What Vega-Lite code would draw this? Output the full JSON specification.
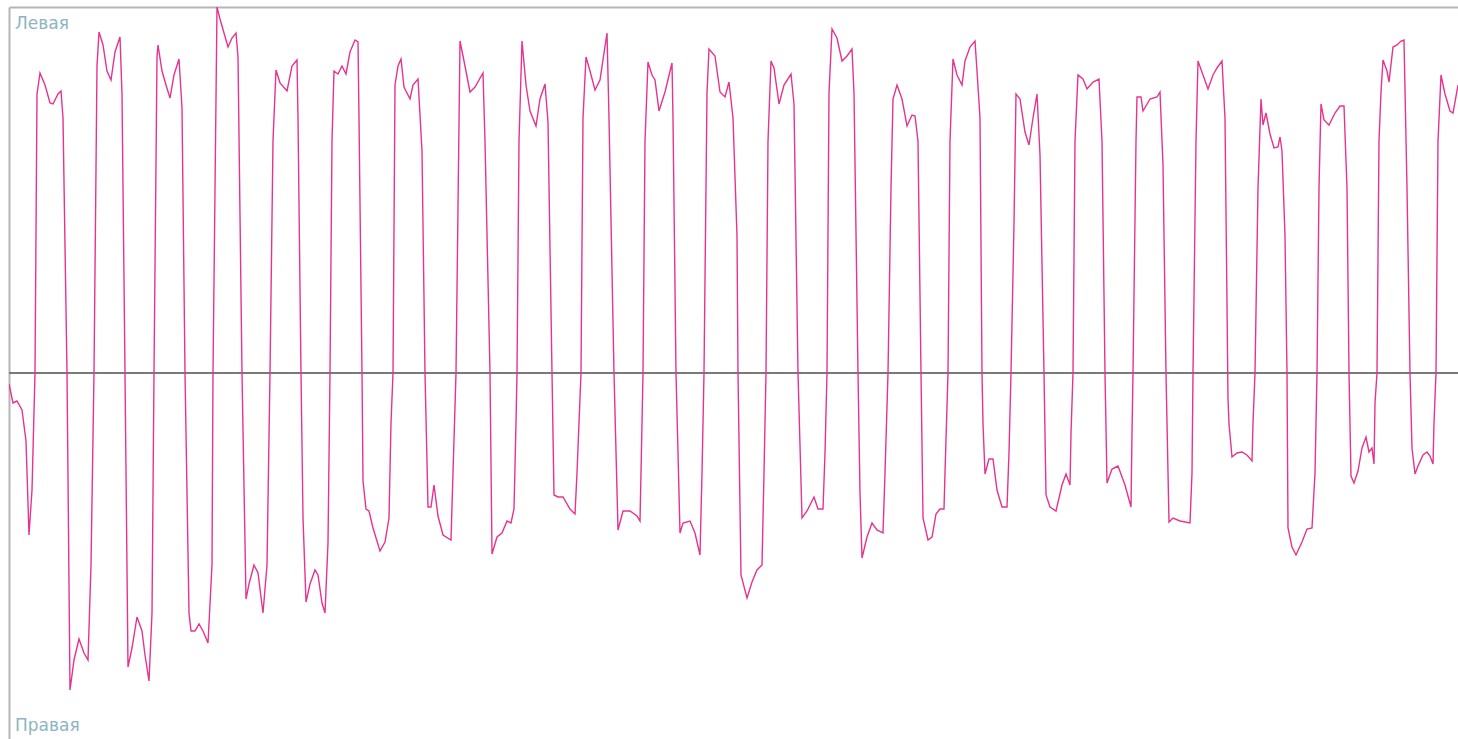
{
  "$schema": "https://vega.github.io/schema/vega-lite/v6.json",
  "width": 1449,
  "height": 732,
  "autosize": {"type": "none"},
  "padding": {"left": 9, "top": 7, "right": 0, "bottom": 0},
  "background": "white",
  "config": {"view": {"stroke": null}},
  "datasets": {
    "wave": [
      {"t":9,"v":-11},{"t":13,"v":-30},{"t":17,"v":-28},{"t":22,"v":-37},{"t":26,"v":-68},{"t":29,"v":-162},{"t":32,"v":-117},{"t":35,"v":0},{"t":37,"v":279},{"t":40,"v":300},{"t":45,"v":288},{"t":50,"v":270},{"t":53,"v":269},{"t":58,"v":279},{"t":61,"v":282},{"t":63,"v":255},{"t":67,"v":0},
      {"t":70,"v":-317},{"t":74,"v":-287},{"t":79,"v":-266},{"t":84,"v":-280},{"t":88,"v":-287},{"t":91,"v":-192},{"t":94,"v":0},{"t":97,"v":307},{"t":99,"v":341},{"t":103,"v":328},{"t":107,"v":302},{"t":111,"v":293},{"t":115,"v":321},{"t":120,"v":336},{"t":122,"v":279},{"t":125,"v":0},
      {"t":128,"v":-294},{"t":132,"v":-275},{"t":137,"v":-244},{"t":142,"v":-258},{"t":145,"v":-282},{"t":149,"v":-308},{"t":152,"v":-240},{"t":154,"v":0},{"t":157,"v":316},{"t":158,"v":328},{"t":162,"v":302},{"t":166,"v":288},{"t":170,"v":275},{"t":174,"v":298},{"t":179,"v":314},{"t":182,"v":265},{"t":185,"v":0},
      {"t":189,"v":-240},{"t":191,"v":-258},{"t":195,"v":-258},{"t":199,"v":-251},{"t":203,"v":-258},{"t":208,"v":-270},{"t":212,"v":-192},{"t":213,"v":0},{"t":217,"v":366},{"t":220,"v":354},{"t":224,"v":340},{"t":228,"v":326},{"t":232,"v":335},{"t":236,"v":340},{"t":238,"v":316},{"t":242,"v":0},
      {"t":246,"v":-226},{"t":249,"v":-211},{"t":254,"v":-192},{"t":258,"v":-200},{"t":263,"v":-240},{"t":267,"v":-192},{"t":270,"v":0},{"t":273,"v":232},{"t":276,"v":303},{"t":280,"v":290},{"t":287,"v":282},{"t":292,"v":307},{"t":297,"v":313},{"t":298,"v":255},{"t":301,"v":0},
      {"t":303,"v":-145},{"t":306,"v":-229},{"t":310,"v":-211},{"t":315,"v":-197},{"t":318,"v":-202},{"t":322,"v":-230},{"t":325,"v":-240},{"t":328,"v":-170},{"t":330,"v":0},{"t":332,"v":232},{"t":334,"v":302},{"t":338,"v":299},{"t":342,"v":307},{"t":346,"v":299},{"t":350,"v":321},{"t":355,"v":333},{"t":358,"v":331},{"t":359,"v":255},{"t":362,"v":0},
      {"t":363,"v":-108},{"t":366,"v":-136},{"t":369,"v":-138},{"t":373,"v":-155},{"t":380,"v":-178},{"t":385,"v":-169},{"t":389,"v":-145},{"t":391,"v":-50},{"t":393,"v":0},{"t":395,"v":288},{"t":398,"v":307},{"t":401,"v":314},{"t":404,"v":286},{"t":410,"v":274},{"t":413,"v":288},{"t":418,"v":294},{"t":422,"v":222},{"t":425,"v":0},
      {"t":428,"v":-134},{"t":431,"v":-134},{"t":434,"v":-112},{"t":438,"v":-143},{"t":443,"v":-162},{"t":451,"v":-167},{"t":453,"v":-100},{"t":456,"v":0},{"t":460,"v":332},{"t":465,"v":307},{"t":470,"v":281},{"t":475,"v":286},{"t":483,"v":300},{"t":485,"v":232},{"t":490,"v":0},
      {"t":492,"v":-181},{"t":497,"v":-164},{"t":502,"v":-160},{"t":507,"v":-148},{"t":511,"v":-150},{"t":514,"v":-136},{"t":516,"v":-50},{"t":517,"v":0},{"t":519,"v":232},{"t":522,"v":332},{"t":526,"v":288},{"t":530,"v":262},{"t":536,"v":247},{"t":540,"v":274},{"t":545,"v":289},{"t":548,"v":251},{"t":552,"v":0},
      {"t":554,"v":-122},{"t":558,"v":-124},{"t":563,"v":-124},{"t":570,"v":-136},{"t":575,"v":-141},{"t":577,"v":-100},{"t":581,"v":0},{"t":583,"v":255},{"t":586,"v":316},{"t":590,"v":302},{"t":595,"v":283},{"t":600,"v":293},{"t":607,"v":340},{"t":609,"v":255},{"t":614,"v":0},
      {"t":618,"v":-157},{"t":623,"v":-138},{"t":630,"v":-138},{"t":637,"v":-143},{"t":640,"v":-148},{"t":641,"v":-100},{"t":643,"v":0},{"t":645,"v":232},{"t":648,"v":311},{"t":652,"v":298},{"t":655,"v":293},{"t":659,"v":262},{"t":665,"v":281},{"t":672,"v":310},{"t":673,"v":255},{"t":676,"v":0},
      {"t":680,"v":-160},{"t":683,"v":-150},{"t":690,"v":-148},{"t":695,"v":-160},{"t":700,"v":-182},{"t":702,"v":-100},{"t":704,"v":0},{"t":707,"v":280},{"t":709,"v":324},{"t":715,"v":317},{"t":720,"v":281},{"t":725,"v":276},{"t":729,"v":291},{"t":733,"v":255},{"t":737,"v":137},{"t":738,"v":0},
      {"t":741,"v":-202},{"t":747,"v":-225},{"t":752,"v":-209},{"t":757,"v":-197},{"t":762,"v":-192},{"t":764,"v":-100},{"t":766,"v":0},{"t":768,"v":232},{"t":771,"v":312},{"t":774,"v":305},{"t":779,"v":269},{"t":784,"v":288},{"t":791,"v":299},{"t":794,"v":269},{"t":798,"v":0},
      {"t":802,"v":-145},{"t":807,"v":-138},{"t":814,"v":-124},{"t":818,"v":-136},{"t":823,"v":-136},{"t":825,"v":-80},{"t":827,"v":0},{"t":829,"v":280},{"t":832,"v":344},{"t":837,"v":335},{"t":842,"v":312},{"t":847,"v":317},{"t":852,"v":324},{"t":854,"v":280},{"t":858,"v":0},
      {"t":860,"v":-120},{"t":862,"v":-185},{"t":867,"v":-164},{"t":872,"v":-150},{"t":877,"v":-157},{"t":883,"v":-160},{"t":885,"v":-100},{"t":888,"v":0},{"t":891,"v":185},{"t":893,"v":274},{"t":897,"v":288},{"t":902,"v":274},{"t":907,"v":247},{"t":912,"v":258},{"t":915,"v":257},{"t":918,"v":232},{"t":921,"v":0},
      {"t":923,"v":-145},{"t":928,"v":-167},{"t":932,"v":-164},{"t":936,"v":-141},{"t":940,"v":-136},{"t":944,"v":-136},{"t":945,"v":-100},{"t":948,"v":0},{"t":950,"v":232},{"t":953,"v":314},{"t":957,"v":298},{"t":962,"v":288},{"t":965,"v":312},{"t":970,"v":326},{"t":975,"v":332},{"t":977,"v":302},{"t":980,"v":255},{"t":982,"v":0},
      {"t":983,"v":-51},{"t":985,"v":-101},{"t":989,"v":-86},{"t":993,"v":-86},{"t":997,"v":-117},{"t":1002,"v":-134},{"t":1007,"v":-134},{"t":1009,"v":-80},{"t":1011,"v":0},{"t":1014,"v":150},{"t":1016,"v":279},{"t":1020,"v":274},{"t":1025,"v":241},{"t":1029,"v":228},{"t":1033,"v":255},{"t":1037,"v":279},{"t":1040,"v":218},{"t":1044,"v":0},
      {"t":1046,"v":-122},{"t":1050,"v":-134},{"t":1056,"v":-138},{"t":1062,"v":-112},{"t":1066,"v":-101},{"t":1070,"v":-112},{"t":1071,"v":-60},{"t":1073,"v":0},{"t":1075,"v":232},{"t":1078,"v":298},{"t":1083,"v":294},{"t":1087,"v":284},{"t":1093,"v":291},{"t":1099,"v":294},{"t":1102,"v":232},{"t":1105,"v":0},
      {"t":1107,"v":-110},{"t":1112,"v":-96},{"t":1118,"v":-93},{"t":1125,"v":-112},{"t":1131,"v":-134},{"t":1132,"v":-60},{"t":1133,"v":0},{"t":1136,"v":232},{"t":1137,"v":276},{"t":1141,"v":276},{"t":1143,"v":262},{"t":1150,"v":274},{"t":1157,"v":276},{"t":1160,"v":281},{"t":1163,"v":208},{"t":1166,"v":0},
      {"t":1169,"v":-149},{"t":1173,"v":-145},{"t":1180,"v":-148},{"t":1190,"v":-150},{"t":1192,"v":-100},{"t":1193,"v":0},{"t":1196,"v":232},{"t":1198,"v":312},{"t":1203,"v":298},{"t":1208,"v":284},{"t":1213,"v":298},{"t":1217,"v":305},{"t":1222,"v":312},{"t":1225,"v":255},{"t":1228,"v":-25},
      {"t":1229,"v":-51},{"t":1232,"v":-84},{"t":1237,"v":-80},{"t":1242,"v":-79},{"t":1247,"v":-82},{"t":1252,"v":-88},{"t":1253,"v":-50},{"t":1255,"v":0},{"t":1258,"v":185},{"t":1261,"v":274},{"t":1263,"v":248},{"t":1266,"v":260},{"t":1270,"v":239},{"t":1274,"v":225},{"t":1278,"v":226},{"t":1280,"v":236},{"t":1282,"v":222},{"t":1285,"v":137},{"t":1287,"v":0},
      {"t":1288,"v":-155},{"t":1292,"v":-174},{"t":1296,"v":-182},{"t":1302,"v":-169},{"t":1307,"v":-156},{"t":1312,"v":-155},{"t":1315,"v":-100},{"t":1317,"v":0},{"t":1319,"v":185},{"t":1321,"v":269},{"t":1324,"v":253},{"t":1329,"v":248},{"t":1335,"v":260},{"t":1340,"v":267},{"t":1344,"v":267},{"t":1347,"v":185},{"t":1349,"v":0},
      {"t":1351,"v":-103},{"t":1354,"v":-110},{"t":1358,"v":-98},{"t":1362,"v":-75},{"t":1366,"v":-64},{"t":1369,"v":-79},{"t":1372,"v":-75},{"t":1374,"v":-91},{"t":1375,"v":-30},{"t":1377,"v":0},{"t":1379,"v":232},{"t":1381,"v":281},{"t":1383,"v":313},{"t":1387,"v":302},{"t":1389,"v":291},{"t":1393,"v":326},{"t":1397,"v":328},{"t":1401,"v":332},{"t":1404,"v":333},{"t":1407,"v":185},{"t":1410,"v":0},
      {"t":1412,"v":-75},{"t":1415,"v":-101},{"t":1418,"v":-93},{"t":1423,"v":-82},{"t":1427,"v":-79},{"t":1430,"v":-83},{"t":1433,"v":-91},{"t":1434,"v":-50},{"t":1436,"v":0},{"t":1438,"v":232},{"t":1441,"v":298},{"t":1445,"v":279},{"t":1450,"v":262},{"t":1453,"v":260},{"t":1458,"v":288}
    ],
    "labels": [
      {"t": 15, "v": 344, "label": "Левая"},
      {"t": 15, "v": -358, "label": "Правая"}
    ]
  },
  "layer": [
    {
      "data": {"name": "wave"},
      "mark": {"type": "rule", "color": "#7a7a7a", "strokeWidth": 1.5},
      "encoding": {
        "y": {"datum": 0, "type": "quantitative", "scale": {"domain": [-366, 366], "nice": false, "zero": false}}
      }
    },
    {
      "data": {"name": "wave"},
      "mark": {"type": "line", "color": "#e5348f", "strokeWidth": 1.4, "interpolate": "linear", "clip": true},
      "encoding": {
        "x": {"field": "t", "type": "quantitative", "scale": {"domain": [9, 1458], "nice": false, "zero": false},
              "axis": {"orient": "top", "title": null, "labels": false, "ticks": false, "grid": false, "domain": true, "domainColor": "#b5b5b5", "domainWidth": 2}},
        "y": {"field": "v", "type": "quantitative", "scale": {"domain": [-366, 366], "nice": false, "zero": false},
              "axis": {"orient": "left", "title": null, "labels": false, "ticks": false, "grid": false, "domain": true, "domainColor": "#b5b5b5", "domainWidth": 2}}
      }
    },
    {
      "data": {"name": "labels"},
      "mark": {"type": "text", "align": "left", "baseline": "alphabetic", "font": "DejaVu Sans", "fontSize": 17, "color": "#8cb5bf"},
      "encoding": {
        "x": {"field": "t", "type": "quantitative"},
        "y": {"field": "v", "type": "quantitative"},
        "text": {"field": "label", "type": "nominal"}
      }
    }
  ]
}
